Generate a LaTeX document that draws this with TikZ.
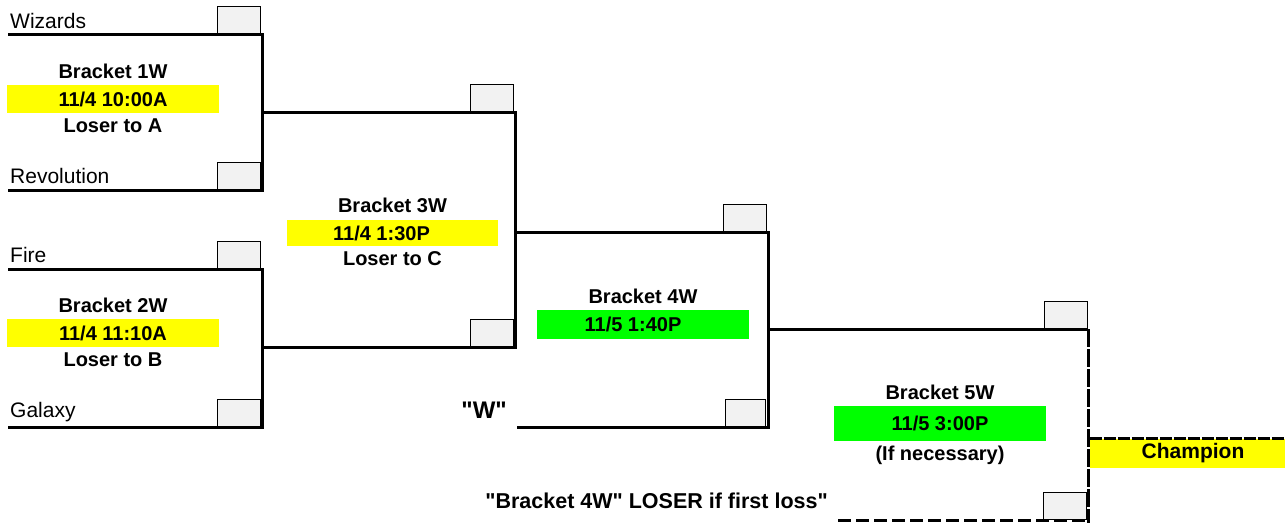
\documentclass[tikz,border=0pt]{standalone}
\usepackage{fontspec}
\setmainfont{Liberation Sans}
\newfontfamily\plainsans{Liberation Sans}
\usetikzlibrary{positioning}
\definecolor{Hilite}{HTML}{FFFF00}
\definecolor{Go}{HTML}{00FF00}
\definecolor{Score}{HTML}{F2F2F2}
\tikzset{
  bline/.style={line width=3pt},
  dline/.style={line width=3pt, dash pattern=on 18pt off 2pt},
  scorebox/.style={draw, line width=1.4pt, fill=Score, minimum width=43pt,
                   minimum height=27pt, inner sep=0pt, anchor=south east},
  team/.style={font=\fontsize{21}{24}\selectfont, anchor=base west, inner sep=0pt},
  lbl/.style={font=\fontsize{20}{24}\selectfont\bfseries, anchor=base, inner sep=0pt},
  band/.style={lbl, anchor=center, minimum width=212pt, minimum height=28pt},
}
\begin{document}
\begin{tikzpicture}[x=1pt, y=-1pt]
  \useasboundingbox (0,0) rectangle (1285,523);
  % score boxes
  \node[scorebox] (s1a) at (261,34) {};
  \node[scorebox] (s1b) at (261,190) {};
  \node[scorebox] (s2a) at (261,269) {};
  \node[scorebox] (s2b) at (261,427) {};
  \node[scorebox] (s3a) at (514,112) {};
  \node[scorebox] (s3b) at (514,347) {};
  \node[scorebox] (s4a) at (767,232) {};
  \node[scorebox, minimum width=40pt] (s4b) at (766,427) {};
  \node[scorebox] (s5a) at (1088,329) {};
  \node[scorebox] (s5b) at (1087,520) {};
  % teams
  \node[team] (t1) at (10,28) {Wizards};
  \node[team] (t2) at (10,183) {Revolution};
  \node[team] (t3) at (10,262) {Fire};
  \node[team] (t4) at (10,417) {Galaxy};
  % bracket corners
  \coordinate (a1) at (8,34);    \coordinate (a2) at (262,34);
  \coordinate (a3) at (262,190); \coordinate (a4) at (8,190);
  \coordinate (b1) at (8,269);   \coordinate (b2) at (262,269);
  \coordinate (b3) at (262,427); \coordinate (b4) at (8,427);
  \coordinate (c1) at (262,112); \coordinate (c2) at (515,112);
  \coordinate (c3) at (515,347); \coordinate (c4) at (262,347);
  \coordinate (e1) at (515,232); \coordinate (e2) at (768,232);
  \coordinate (e3) at (768,427); \coordinate (e4) at (517,427);
  \coordinate (f1) at (768,329); \coordinate (f2) at (1088,329);
  \coordinate (f3) at (1088,523); \coordinate (f4) at (838,520);
  \coordinate (f5) at (1088,520);
  \draw[bline] (a1) -- (a2) -- (a3) -- (a4);
  \draw[bline] (b1) -- (b2) -- (b3) -- (b4);
  \draw[bline] (c1) -- (c2) -- (c3) -- (c4);
  \draw[bline] (e1) -- (e2) -- (e3) -- (e4);
  \draw[bline] (f1) -- (f2);
  \draw[dline] (f2) -- (f3);
  \draw[line width=3pt, dash pattern=on 13pt off 5pt] (f4) -- (f5);
  % games
  \node[band, fill=Hilite] (d1) at (113,99) {11/4 10:00A};
  \node[lbl, above=6pt of d1] (h1) {Bracket 1W};
  \node[lbl, below=5pt of d1] (l1) {Loser to A};
  \node[band, fill=Hilite] (d2) at (113,333) {11/4 11:10A};
  \node[lbl, above=6pt of d2] (h2) {Bracket 2W};
  \node[lbl, below=5pt of d2] (l2) {Loser to B};
  \node[band, fill=Hilite, minimum width=211pt, minimum height=26pt] (d3) at (392.5,233) {};
  \node[lbl, anchor=center] at ([xshift=-11pt]d3.center) {11/4 1:30P};
  \node[lbl, above=7pt of d3] (h3) {Bracket 3W};
  \node[lbl, below=5.5pt of d3] (l3) {Loser to C};
  \node[band, fill=Go, minimum height=29pt] (d4) at (643,324.5) {};
  \node[lbl, anchor=center] at ([xshift=-10pt]d4.center) {11/5 1:40P};
  \node[lbl, above=6pt of d4] (h4) {Bracket 4W};
  \node[band, fill=Go, minimum height=35pt] (d5) at (940,423.5) {11/5 3:00P};
  \node[lbl, above=6pt of d5] (h5) {Bracket 5W};
  \node[lbl] (l5) at (940,460) {(If necessary)};
  % champion
  \node[band, fill=Hilite, minimum width=195pt, minimum height=29pt,
        font=\fontsize{21}{24}\selectfont\bfseries] (ch) at (1187.5,453.5) {\hspace{11pt}Champion};
  \draw[line width=3pt, dash pattern=on 12pt off 2pt] (ch.north west) -- (ch.north east);
  % notes
  \node[lbl, anchor=base east, font=\plainsans\fontsize{24}{28}\selectfont\bfseries] (w) at (507,418) {"W"};
  \node[lbl, anchor=base east, font=\plainsans\fontsize{21.5}{26}\selectfont\bfseries] (ls) at (828,508)
    {"Bracket 4W" LOSER if first loss"};
\end{tikzpicture}
\end{document}
